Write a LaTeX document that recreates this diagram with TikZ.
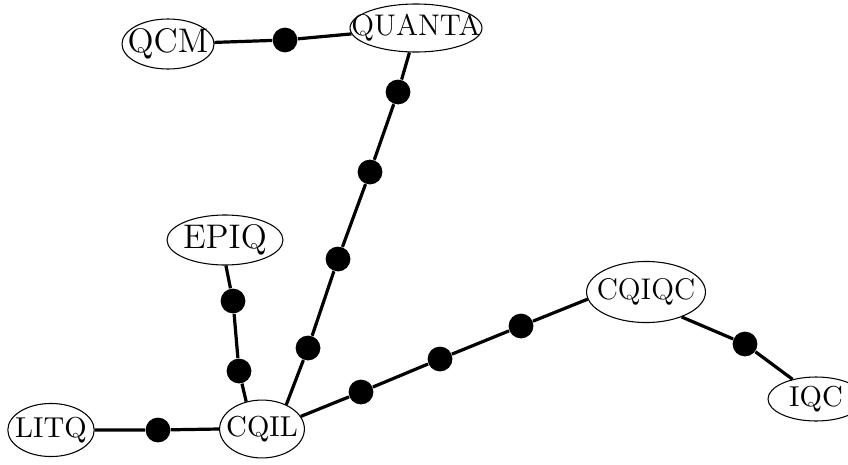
\documentclass[tikz,border=0pt]{standalone}
\usetikzlibrary{shapes.geometric}
\begin{document}
\begin{tikzpicture}[x=0.375pt,y=-0.375pt,
  lab/.style={draw,ellipse,line width=0.4pt,inner sep=0pt,font=\fontsize{11.2}{13}\selectfont},
  smalllab/.style={lab,font=\fontsize{10.8}{12}\selectfont},
  biglab/.style={lab,font=\fontsize{12.8}{15}\selectfont},
  dot/.style={circle,fill=black,inner sep=0pt,minimum size=9.3pt},
  edge/.style={line width=1.2pt}]
\useasboundingbox (0,0) rectangle (848,464);
\node[biglab,minimum width=34.5pt,minimum height=18.75pt] (QCM) at (168,44) {\makebox[0pt]{QCM}};
\node[lab,minimum width=49.5pt,minimum height=18pt] (QUANTA) at (416,28) {\makebox[0pt]{QUANTA}};
\node[biglab,minimum width=43.5pt,minimum height=18.75pt] (EPIQ) at (225,240) {\makebox[0pt]{EPIQ}};
\node[smalllab,minimum width=32.4pt,minimum height=19.9pt] (LITQ) at (51,430) {\makebox[0pt]{LITQ}};
\node[smalllab,minimum width=31.8pt,minimum height=21.7pt] (CQIL) at (262,429) {\makebox[0pt]{CQIL}};
\node[lab,minimum width=44.6pt,minimum height=22.9pt] (CQIQC) at (646,292) {\makebox[0pt]{CQIQC}};
\node[smalllab,minimum width=36pt,minimum height=16.5pt] (IQC) at (816,399) {\makebox[0pt]{IQC}};
\node[dot] (d1) at (285,40) {};
\node[dot] (d2) at (398,92) {};
\node[dot] (d3) at (370,172) {};
\node[dot] (d4) at (338,259) {};
\node[dot] (d5) at (308,348) {};
\node[dot] (d6) at (233,301) {};
\node[dot] (d7) at (239,371) {};
\node[dot] (d8) at (158,430) {};
\node[dot] (d9) at (361,392) {};
\node[dot] (d10) at (440,359) {};
\node[dot] (d11) at (521,326) {};
\node[dot] (d12) at (745,344) {};
\draw[edge] (QCM) -- (d1) -- (QUANTA);
\draw[edge] (QUANTA.255) -- (d2) -- (d3) -- (d4) -- (d5) -- (CQIL.45);
\draw[edge] (EPIQ.272) -- (d6) -- (d7) -- (CQIL.120);
\draw[edge] (LITQ) -- (d8) -- (CQIL.180);
\draw[edge] (CQIL.18) -- (d9) -- (d10) -- (d11) -- (CQIQC.187);
\draw[edge] (CQIQC.-35) -- (d12) -- (IQC.140);
\end{tikzpicture}
\end{document}
